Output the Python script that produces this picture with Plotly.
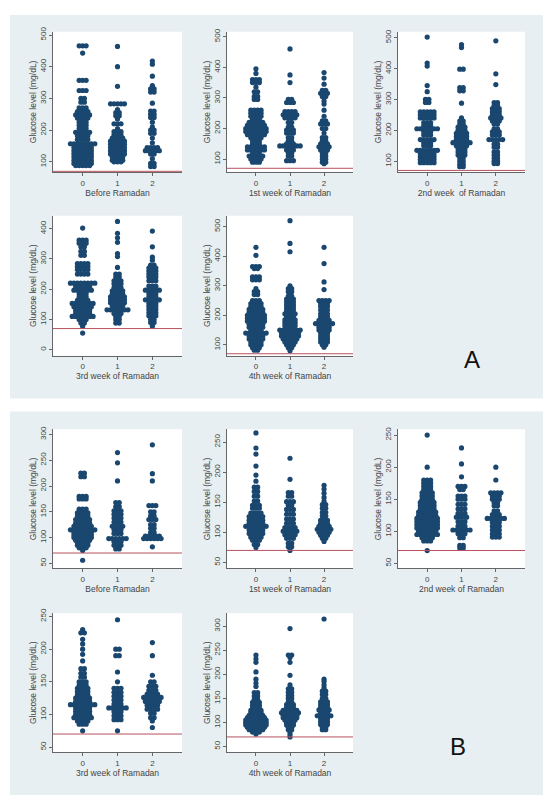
import plotly.graph_objects as go

# ---------------- DATA: (glucose level mg/dL, number of readings at that level) ----------------
# Panel A
A_before_0 = [(466,3),(443,1),(357,3),(325,3),(300,2),(288,2),(270,3),(258,4),(248,5),(238,4),(225,3),(215,3),(205,3),(193,5),(182,4),(170,4),(157,8),(145,6),(135,6),(125,6),(115,6),(105,6),(95,6),(88,5)]
A_before_1 = [(464,1),(400,1),(338,1),(283,5),(265,1),(255,2),(245,2),(235,1),(220,3),(205,1),(195,3),(185,3),(175,4),(165,5),(155,5),(145,5),(135,5),(125,5),(115,4),(105,4),(100,3)]
A_before_2 = [(418,1),(408,1),(370,1),(340,1),(330,2),(320,2),(285,1),(260,2),(250,2),(240,2),(225,1),(210,1),(200,2),(190,2),(175,1),(160,1),(145,4),(135,5),(125,2),(110,1),(95,2),(85,2)]

A_week1_0 = [(395,1),(380,1),(360,3),(350,3),(335,1),(320,2),(305,2),(295,2),(260,4),(250,4),(240,4),(230,3),(220,5),(210,6),(200,7),(190,7),(180,6),(170,4),(160,3),(150,3),(140,6),(130,6),(120,3),(110,5),(100,4),(90,3)]
A_week1_1 = [(460,1),(375,1),(350,1),(295,2),(285,3),(255,4),(245,5),(235,4),(220,2),(205,2),(195,3),(185,3),(170,2),(160,2),(150,3),(143,7),(130,3),(120,2),(110,2),(95,3)]
A_week1_2 = [(383,1),(365,1),(345,1),(325,2),(315,3),(305,2),(290,1),(280,1),(260,1),(240,1),(225,2),(215,3),(200,2),(185,1),(170,2),(160,2),(150,3),(140,4),(130,3),(120,2),(110,2),(100,2),(90,2),(85,1)]

A_week2_0 = [(502,1),(418,1),(408,1),(345,1),(325,1),(300,2),(290,2),(260,5),(250,5),(240,5),(225,3),(215,3),(205,7),(195,3),(185,3),(170,5),(160,3),(150,3),(135,7),(125,5),(115,5),(105,5),(95,5)]
A_week2_1 = [(478,1),(468,1),(398,2),(338,2),(328,2),(288,1),(240,1),(230,2),(220,2),(210,3),(200,3),(190,4),(180,4),(170,4),(160,6),(150,4),(140,3),(130,3),(120,3),(110,2),(100,2),(90,2),(82,2)]
A_week2_2 = [(490,1),(383,1),(348,1),(290,2),(280,2),(270,3),(260,3),(250,3),(240,4),(230,3),(220,2),(205,2),(195,3),(185,3),(170,5),(155,2),(145,2),(130,2),(120,2),(110,2),(100,2),(92,2)]

A_week3_0 = [(402,1),(362,3),(352,3),(340,2),(325,2),(312,2),(285,4),(275,4),(265,4),(250,4),(220,8),(208,5),(197,6),(185,3),(175,3),(163,4),(153,7),(142,6),(130,5),(120,5),(110,7),(100,3),(88,2),(78,1),(55,1)]
A_week3_1 = [(424,1),(385,1),(370,1),(355,1),(318,1),(308,1),(272,1),(250,2),(240,2),(228,3),(218,3),(205,3),(195,4),(185,4),(175,5),(165,5),(155,5),(145,4),(132,7),(120,3),(110,2),(100,2),(88,2)]
A_week3_2 = [(392,1),(340,1),(306,1),(296,1),(280,2),(270,3),(260,3),(250,3),(240,3),(228,3),(210,3),(197,5),(185,3),(175,3),(165,5),(153,3),(143,3),(133,3),(122,3),(112,3),(100,2),(90,2),(78,1)]

A_week4_0 = [(430,1),(403,1),(365,3),(358,2),(330,3),(320,3),(290,1),(280,2),(270,2),(250,3),(240,4),(230,4),(220,5),(210,5),(200,6),(190,6),(180,6),(170,5),(160,5),(150,4),(140,7),(130,5),(120,5),(110,4),(100,4),(90,3),(82,2)]
A_week4_1 = [(520,1),(443,1),(415,1),(300,1),(290,2),(280,2),(265,2),(255,3),(245,3),(235,3),(225,3),(215,3),(205,4),(195,3),(185,4),(175,4),(165,4),(150,7),(140,6),(130,6),(120,5),(110,4),(100,3),(90,2),(80,1)]
A_week4_2 = [(430,1),(375,1),(313,1),(287,1),(250,4),(240,3),(230,3),(218,3),(205,3),(195,3),(183,4),(172,6),(160,4),(150,4),(140,3),(130,3),(120,3),(110,3),(100,2),(92,1)]

# Panel B
B_before_0 = [(225,2),(218,2),(180,3),(175,3),(155,3),(148,4),(142,4),(135,5),(128,5),(122,6),(115,8),(110,6),(105,6),(100,6),(95,5),(90,4),(85,4),(80,3),(75,1),(56,1)]
B_before_1 = [(265,1),(245,1),(210,1),(168,2),(160,2),(152,3),(145,3),(138,3),(130,3),(122,4),(115,3),(108,3),(98,6),(92,3),(85,3),(78,2)]
B_before_2 = [(280,1),(224,1),(210,1),(162,3),(150,2),(142,2),(135,3),(125,2),(118,2),(110,2),(103,5),(98,6),(82,1)]

B_week1_0 = [(265,1),(240,1),(230,1),(210,1),(195,1),(185,1),(175,2),(168,2),(160,2),(152,2),(145,3),(140,3),(132,4),(126,5),(120,5),(115,5),(110,7),(104,5),(98,5),(92,4),(87,3),(80,2),(75,1)]
B_week1_1 = [(223,1),(188,1),(166,2),(160,2),(151,3),(145,2),(138,3),(130,3),(122,3),(115,3),(108,4),(102,5),(96,4),(90,3),(82,2),(76,2),(70,1)]
B_week1_2 = [(178,1),(172,1),(165,1),(158,1),(152,1),(146,2),(140,2),(133,2),(127,2),(120,3),(115,3),(110,4),(105,5),(100,4),(95,3),(90,2),(85,1)]

B_week2_0 = [(250,1),(200,1),(180,3),(175,3),(170,3),(165,3),(160,4),(155,4),(150,4),(145,5),(140,5),(135,5),(130,6),(125,6),(120,7),(115,7),(110,7),(105,7),(100,6),(95,7),(90,4),(85,3),(70,1)]
B_week2_1 = [(230,1),(205,1),(185,1),(170,3),(165,2),(155,3),(150,3),(142,3),(135,3),(128,3),(122,4),(115,3),(108,3),(102,6),(96,3),(90,2),(78,2),(74,2)]
B_week2_2 = [(200,1),(180,1),(160,4),(155,3),(150,3),(145,2),(140,2),(132,2),(126,3),(120,6),(114,3),(108,3),(102,3),(96,3),(91,3)]

B_week3_0 = [(230,1),(225,2),(215,1),(208,1),(200,1),(192,1),(182,1),(170,2),(163,2),(157,2),(150,3),(145,3),(140,4),(135,4),(130,4),(125,5),(120,5),(115,8),(110,5),(105,5),(100,5),(95,6),(90,4),(85,3),(75,1)]
B_week3_1 = [(245,1),(200,2),(190,2),(165,1),(150,1),(140,3),(134,3),(128,3),(122,3),(116,3),(110,6),(104,3),(98,3),(92,3),(75,1)]
B_week3_2 = [(210,1),(190,1),(160,1),(150,2),(143,3),(137,3),(131,4),(126,6),(120,5),(114,4),(108,4),(102,2),(95,2),(90,1),(80,1)]

B_week4_0 = [(240,1),(232,1),(225,1),(205,1),(190,1),(182,1),(175,1),(162,2),(155,2),(148,2),(142,3),(136,3),(130,3),(125,4),(120,4),(115,5),(110,6),(105,7),(100,7),(95,7),(90,6),(85,5),(80,3),(76,1)]
B_week4_1 = [(295,1),(240,2),(235,1),(225,1),(198,1),(178,1),(170,2),(163,2),(156,2),(150,2),(143,2),(137,3),(131,3),(125,5),(120,6),(115,5),(110,5),(105,4),(100,3),(95,3),(90,2),(85,2),(80,1),(75,1),(70,1)]
B_week4_2 = [(315,1),(190,1),(185,1),(178,1),(172,1),(165,2),(158,2),(150,2),(143,3),(137,3),(131,3),(126,4),(120,3),(114,5),(108,3),(102,3),(96,3),(90,2),(85,2)]

GROUPS = [0, 1, 2]
HYPO_LINE = 70
Y_TITLE = "Glucose level (mg/dL)"

A_titles = ["Before Ramadan", "1st week of Ramadan", "2nd week\u00a0 of Ramadan", "3rd week of Ramadan", "4th week of Ramadan"]
B_titles = ["Before Ramadan", "1st week of Ramadan", "2nd week of Ramadan", "3rd week of Ramadan", "4th week of Ramadan"]

A_data = [[A_before_0, A_before_1, A_before_2], [A_week1_0, A_week1_1, A_week1_2], [A_week2_0, A_week2_1, A_week2_2],
          [A_week3_0, A_week3_1, A_week3_2], [A_week4_0, A_week4_1, A_week4_2]]
B_data = [[B_before_0, B_before_1, B_before_2], [B_week1_0, B_week1_1, B_week1_2], [B_week2_0, B_week2_1, B_week2_2],
          [B_week3_0, B_week3_1, B_week3_2], [B_week4_0, B_week4_1, B_week4_2]]

A_ticks = [[100, 200, 300, 400, 500], [100, 200, 300, 400, 500], [100, 200, 300, 400, 500], [0, 100, 200, 300, 400], [100, 200, 300, 400, 500]]
B_ticks = [[50, 100, 150, 200, 250, 300], [50, 100, 150, 200, 250], [50, 100, 150, 200, 250], [50, 100, 150, 200, 250], [50, 100, 150, 200, 250, 300]]

A_ranges = [[68, 510], [58, 516], [65, 519], [-20, 443], [63, 537]]
B_ranges = [[40, 310], [40, 271], [42, 259], [42, 255], [38, 327]]

# ---------------- LAYOUT (pixel boxes of each plot region) ----------------
W, H = 550, 806
NAVY = "#1a476f"
RED = "#b8505e"
BG = "#e8eff2"
FONT = "Liberation Sans, Arial, sans-serif"

boxes_A = [(53, 182, 27, 168), (227, 353, 27, 168), (398, 525, 27, 168), (53, 182, 212, 353), (227, 353, 212, 353)]
boxes_B = [(53, 182, 427, 567), (227, 353, 427, 567), (398, 525, 427, 567), (53, 182, 612, 752), (227, 353, 612, 752)]

DX = 0.1  # horizontal spacing between stacked dots (category units)

fig = go.Figure()
layout = dict(width=W, height=H, margin=dict(l=0, r=0, t=0, b=0), paper_bgcolor="white",
              plot_bgcolor="white", showlegend=False, shapes=[], annotations=[],
              font=dict(family=FONT, color="#333"))

# panel backgrounds
for (y0, y1) in [(10, 396), (409, 795)]:
    layout["shapes"].append(dict(type="rect", xref="paper", yref="paper", layer="below",
                                 x0=10 / W, x1=543 / W, y0=1 - y1 / H, y1=1 - y0 / H,
                                 fillcolor=BG, line=dict(width=0)))

panels = [(A_data, A_titles, A_ticks, A_ranges, boxes_A), (B_data, B_titles, B_ticks, B_ranges, boxes_B)]
k = 0
for data, titles, ticks, ranges, boxes in panels:
    for i in range(5):
        k += 1
        sfx = "" if k == 1 else str(k)
        xa, ya = "x" + sfx, "y" + sfx
        x0, x1, y0, y1 = boxes[i]
        # white plot region
        layout["shapes"].append(dict(type="rect", xref="paper", yref="paper", layer="below",
                                     x0=x0 / W, x1=x1 / W, y0=1 - y1 / H, y1=1 - y0 / H,
                                     fillcolor="white", line=dict(width=0)))
        for g, grp in zip(GROUPS, data[i]):
            xs, ys = [], []
            for val, n in grp:
                for j in range(n):
                    xs.append(g + (j - (n - 1) / 2) * DX)
                    ys.append(val)
            fig.add_trace(go.Scatter(x=xs, y=ys, mode="markers", xaxis=xa, yaxis=ya,
                                     marker=dict(color=NAVY, size=5.2, line=dict(width=0)),
                                     hoverinfo="y"))
        layout["xaxis" + sfx] = dict(domain=[x0 / W, x1 / W], anchor=ya, range=[-0.85, 2.85],
                                     tickvals=GROUPS, ticktext=[str(v) for v in GROUPS],
                                     showline=True, linecolor="#666", linewidth=1, ticks="outside",
                                     ticklen=3, tickcolor="#666", showgrid=False, zeroline=False,
                                     tickfont=dict(size=8, color="#444", family=FONT),
                                     title=dict(text=titles[i], font=dict(size=8.5, color="#444", family=FONT), standoff=0))
        layout["yaxis" + sfx] = dict(domain=[1 - y1 / H, 1 - y0 / H], anchor=xa, range=ranges[i],
                                     tickvals=ticks[i], tickangle=-90,
                                     showline=True, linecolor="#666", linewidth=1, ticks="outside",
                                     ticklen=3, tickcolor="#666", showgrid=False, zeroline=False,
                                     tickfont=dict(size=8, color="#444", family=FONT),
                                     title=dict(text=Y_TITLE, font=dict(size=8.5, color="#444", family=FONT), standoff=0))
        layout["shapes"].append(dict(type="line", xref=xa + " domain", yref=ya, x0=0, x1=1,
                                     y0=HYPO_LINE, y1=HYPO_LINE, line=dict(color=RED, width=1)))

layout["annotations"].append(dict(text="A", xref="paper", yref="paper", x=482 / W, y=1 - 357 / H,
                                  showarrow=False, font=dict(size=24, color="#111", family=FONT)))
layout["annotations"].append(dict(text="B", xref="paper", yref="paper", x=468 / W, y=1 - 762 / H,
                                  showarrow=False, font=dict(size=24, color="#111", family=FONT)))

fig.update_layout(**layout)
fig.write_html("out.html", config={"displayModeBar": False},
               post_script="document.body.style.margin='0';document.body.style.overflow='hidden';")
